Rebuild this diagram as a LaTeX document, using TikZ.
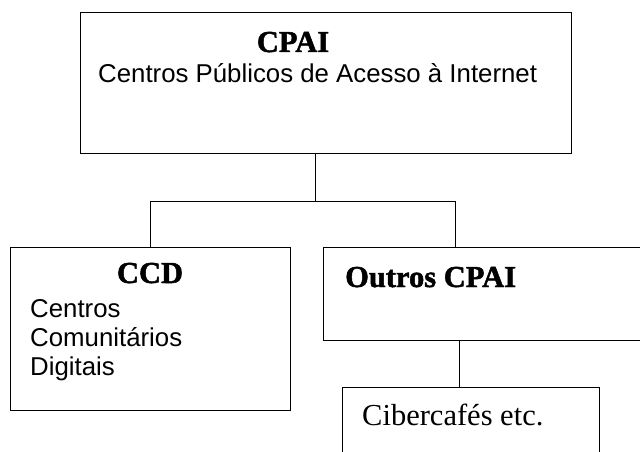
\documentclass[tikz,border=0pt]{standalone}
\usepackage{fontspec}
\setmainfont{Liberation Serif}
\newfontfamily\arialfont{Liberation Sans}
\newfontfamily\heavyfont[FakeBold=1.6]{Liberation Serif Bold}
\begin{document}
\begin{tikzpicture}[x=1pt,y=1pt,
  boxstyle/.style={draw=black, line width=1pt, inner sep=0pt, outer sep=0pt, anchor=north west},
  conn/.style={draw=black, line width=0.9pt},
  titletext/.style={inner sep=0pt, anchor=base, font=\heavyfont\fontsize{30.5}{30.5}\selectfont},
  sanstext/.style={inner sep=0pt, anchor=base west, font=\arialfont\fontsize{25.8}{25.8}\selectfont},
  seriftext/.style={inner sep=0pt, anchor=base west, font=\fontsize{30.5}{30.5}\selectfont}]
\useasboundingbox (0,0) rectangle (640,-452);
\clip (0,0) rectangle (640,-452);
\fill[white] (0,0) rectangle (640,-452);
% boxes
\node[boxstyle, minimum width=491, minimum height=140] (cpai) at (80,-13) {};
\node[boxstyle, minimum width=280, minimum height=163] (ccd) at (10,-247) {};
\node[boxstyle, minimum width=340, minimum height=93] (outros) at (323,-247) {};
\node[boxstyle, minimum width=257, minimum height=90] (ciber) at (342,-387) {};
% attachment points
\coordinate (cpaibot) at (315,-153);
\coordinate (junc) at (315,-201);
\coordinate (outtop) at (455,-247);
\coordinate (outbot) at (459,-340);
\coordinate (cibtop) at (459,-387);
% connectors
\draw[conn] (cpaibot) -- (junc);
\draw[conn] (ccd.north) |- (junc);
\draw[conn] (junc) -| (outtop);
\draw[conn] (outbot) -- (cibtop);
% texts
\node[titletext] (t1) at (293,-52) {CPAI};
\node[sanstext] (t2) at (98,-83) {Centros Públicos de Acesso à Internet};
\node[titletext] (t3) at (150,-283) {CCD};
\node[sanstext] (t4) at (30,-317) {Centros};
\node[sanstext] (t5) at (30,-346) {Comunitários};
\node[sanstext] (t6) at (30,-375) {Digitais};
\node[titletext, anchor=base west] (t7) at (345,-287) {Outros CPAI};
\node[seriftext] (t8) at (362,-425) {Cibercafés etc.};
\end{tikzpicture}
\end{document}
